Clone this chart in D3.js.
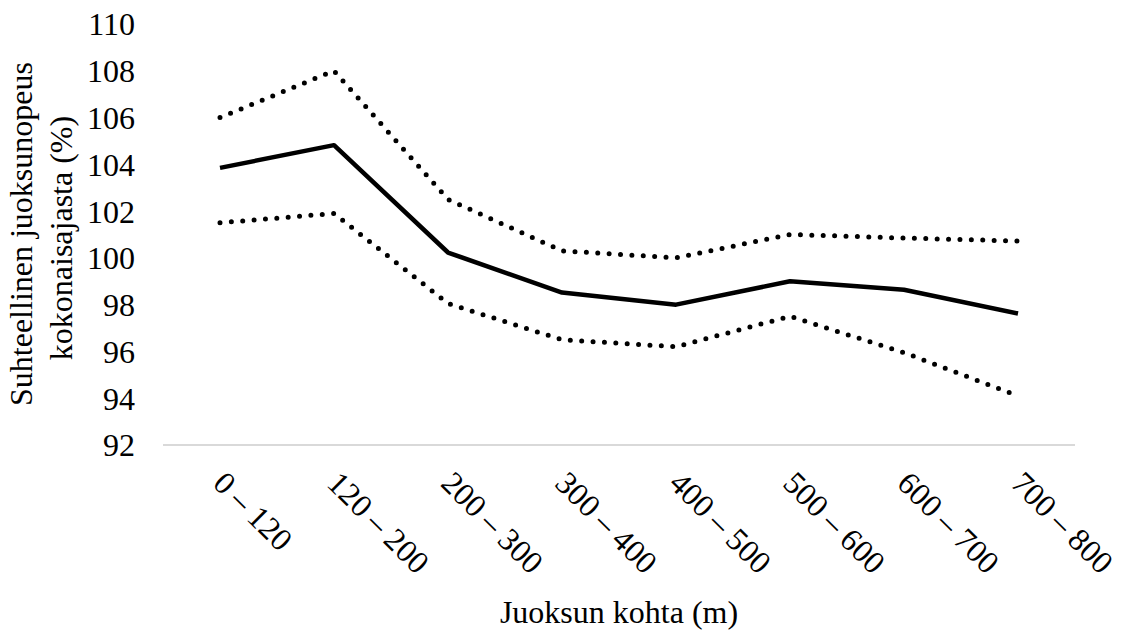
<!DOCTYPE html>
<html>
<head>
<meta charset="utf-8">
<script src="https://cdn.jsdelivr.net/npm/d3@7"></script>
<style>
  body { margin: 0; background: #fff; }
  svg text { font-family: "Liberation Serif", "Times New Roman", serif; fill: #000; }
</style>
</head>
<body>
<div id="chart"></div>
<script>
var svgWidth = 1122;
var svgHeight = 634;

// data
var categories = ["0 – 120", "120 – 200", "200 – 300", "300 – 400", "400 – 500", "500 – 600", "600 – 700", "700 – 800"];
var meanValues = [103.85, 104.82, 100.23, 98.52, 98.0, 99.0, 98.64, 97.62];
var upperValues = [106.0, 108.0, 102.5, 100.3, 100.0, 101.0, 100.85, 100.72];
var lowerValues = [101.5, 101.9, 98.05, 96.5, 96.2, 97.5, 95.95, 94.1];
var yTicks = [92, 94, 96, 98, 100, 102, 104, 106, 108, 110];

var plotLeft = 163, plotRight = 1075, plotTop = 24, plotBottom = 445;

var svg = d3.select("#chart")
  .append("svg")
  .attr("width", svgWidth)
  .attr("height", svgHeight);

var x = d3.scalePoint()
  .domain(categories)
  .range([plotLeft, plotRight])
  .padding(0.5);

var y = d3.scaleLinear()
  .domain([92, 110])
  .range([plotBottom, plotTop]);

// y axis: labels only
var yAxis = d3.axisLeft(y).tickValues(yTicks).tickSize(0).tickPadding(0);
var yg = svg.append("g")
  .attr("transform", `translate(135, 0)`)
  .call(yAxis);
yg.select(".domain").remove();
yg.selectAll("text")
  .style("font-size", "32px")
  .style("font-family", "Liberation Serif, serif")
  .attr("dy", "0.34em");

// x axis: light line + rotated labels
var xAxis = d3.axisBottom(x).tickSize(0).tickPadding(0);
var xg = svg.append("g")
  .attr("transform", `translate(0, ${plotBottom})`)
  .call(xAxis);
xg.select(".domain")
  .attr("d", `M${plotLeft},0H${plotRight}`)
  .attr("stroke", "#d9d9d9")
  .attr("stroke-width", 2);
xg.selectAll("text")
  .style("font-size", "32px")
  .style("font-family", "Liberation Serif, serif")
  .attr("text-anchor", "start")
  .attr("dy", null)
  .attr("y", null)
  .attr("transform", "translate(-9, 40) rotate(45)");

var line = d3.line()
  .x((d, i) => x(categories[i]))
  .y(d => y(d));

svg.append("path")
  .datum(upperValues)
  .attr("d", line)
  .attr("fill", "none")
  .attr("stroke", "#000")
  .attr("stroke-width", 5)
  .attr("stroke-linecap", "round")
  .attr("stroke-dasharray", "0 11.4");

svg.append("path")
  .datum(lowerValues)
  .attr("d", line)
  .attr("fill", "none")
  .attr("stroke", "#000")
  .attr("stroke-width", 5)
  .attr("stroke-linecap", "round")
  .attr("stroke-dasharray", "0 11.4");

svg.append("path")
  .datum(meanValues)
  .attr("d", line)
  .attr("fill", "none")
  .attr("stroke", "#000")
  .attr("stroke-width", 4.5)
  .attr("stroke-linejoin", "round");

// axis titles
svg.append("text")
  .attr("transform", "translate(32, 234) rotate(-90)")
  .attr("text-anchor", "middle")
  .style("font-size", "32px")
  .text("Suhteellinen juoksunopeus");

svg.append("text")
  .attr("transform", "translate(72, 238) rotate(-90)")
  .attr("text-anchor", "middle")
  .style("font-size", "32px")
  .text("kokonaisajasta (%)");

svg.append("text")
  .attr("x", (plotLeft + plotRight) / 2)
  .attr("y", 623)
  .attr("text-anchor", "middle")
  .style("font-size", "32px")
  .text("Juoksun kohta (m)");
</script>
</body>
</html>
